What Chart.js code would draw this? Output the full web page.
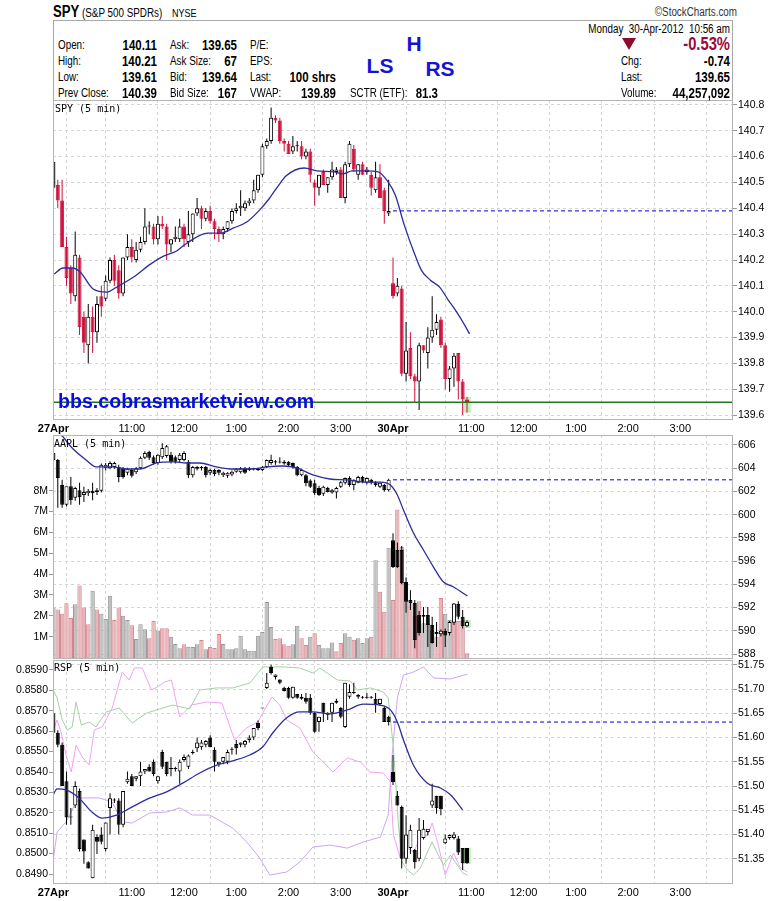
<!DOCTYPE html>
<html>
<head>
<meta charset="utf-8">
<title>SPY 5 min</title>
<script src="https://cdn.jsdelivr.net/npm/chart.js@4.4.1/dist/chart.umd.min.js"></script>
<style>
  html, body { margin: 0; padding: 0; background: #fff; }
  body { width: 780px; height: 901px; position: relative; overflow: hidden; }
  canvas { position: absolute; left: 0; }
  .t { position: absolute; white-space: pre; line-height: 1.15; z-index: 5; color: #000; }
  #box { position: absolute; left: 53px; top: 20px; width: 680px; height: 81px; box-sizing: border-box; border: 1px solid #a8a8a8; }
  #tri { position: absolute; left: 622px; top: 38px; width: 0; height: 0; border-left: 7px solid transparent; border-right: 7px solid transparent; border-top: 12px solid #8b0d2d; }
</style>
</head>
<body>
<div id="box"></div>
<div id="tri"></div>
<canvas id="spy" width="780" height="336" style="top:100px"></canvas>
<canvas id="aapl" width="780" height="224" style="top:435px"></canvas>
<canvas id="rsp" width="780" height="240" style="top:660px"></canvas>
<script>
// time axis: one slot per 5-minute bar, 27 Apr 9:30 = slot 0, 30 Apr 9:30 = slot 78
const tickSlots = [0, 6, 18, 30, 42, 54, 66, 78, 84, 96, 108, 120, 132, 144];
const tickLabels = {0: '27Apr', 18: '11:00', 30: '12:00', 42: '1:00', 54: '2:00', 66: '3:00',
  78: '30Apr', 96: '11:00', 108: '12:00', 120: '1:00', 132: '2:00', 144: '3:00'};

// SPY 5 min
const spyO = [140.58,140.49,140.43,140.25,140.17,140.06,140.21,139.98,139.87,139.98,139.92,140.06,
  140.05,140.12,140.20,140.16,140.07,140.21,140.25,140.20,140.24,140.27,140.33,140.33,140.28,140.34,140.33,140.26,140.28,140.28,140.33,140.27,140.30,140.38,140.40,140.36,140.39,140.35,140.32,140.30,140.32,140.35,140.39,140.40,140.40,140.42,140.43,140.47,140.53,140.64,140.66,140.75,140.74,140.66,140.65,140.62,140.64,140.64,140.60,140.62,140.50,140.48,140.54,140.49,140.52,140.54,140.55,140.44,140.57,140.63,140.53,140.57,140.54,140.53,140.47,140.52,140.47,140.38,
  140.11,140.07,140.09,139.76,139.86,139.75,139.73,139.87,139.84,139.90,139.93,139.97,139.87,139.74,139.78,139.84,139.73,139.66];
const spyH = [140.60,140.51,140.51,140.29,140.18,140.31,140.22,140.00,140.03,140.02,140.06,140.10,
  140.14,140.21,140.22,140.18,140.21,140.30,140.28,140.27,140.29,140.40,140.35,140.34,140.37,140.37,140.34,140.28,140.33,140.36,140.34,140.39,140.38,140.44,140.41,140.40,140.41,140.36,140.33,140.33,140.35,140.40,140.42,140.47,140.43,140.44,140.51,140.53,140.65,140.67,140.79,140.76,140.75,140.67,140.66,140.68,140.66,140.66,140.63,140.63,140.51,140.53,140.55,140.52,140.58,140.56,140.56,140.58,140.66,140.645,140.57,140.58,140.56,140.54,140.58,140.57,140.48,140.51,
  140.21,140.13,140.10,139.96,139.92,139.76,139.88,139.87,139.94,140.06,139.99,139.98,139.88,139.79,139.84,139.84,139.74,139.67];
const spyL = [140.48,140.40,140.25,140.10,140.03,140.04,139.91,139.84,139.80,139.84,139.88,139.98,
  140.04,140.11,140.10,140.05,140.06,140.20,140.19,140.19,140.23,140.26,140.30,140.26,140.26,140.32,140.20,140.23,140.27,140.27,140.25,140.25,140.27,140.37,140.32,140.35,140.34,140.28,140.27,140.28,140.31,140.34,140.38,140.37,140.39,140.41,140.42,140.46,140.52,140.63,140.65,140.73,140.65,140.62,140.61,140.61,140.62,140.59,140.59,140.50,140.41,140.45,140.49,140.46,140.51,140.53,140.44,140.42,140.56,140.54,140.51,140.53,140.53,140.45,140.46,140.44,140.34,140.37,
  140.05,140.06,139.75,139.73,139.74,139.65,139.62,139.84,139.78,139.88,139.91,139.86,139.70,139.69,139.71,139.66,139.60,139.61];
const spyC = [140.48,140.43,140.25,140.13,140.07,140.22,139.94,139.88,139.98,139.92,140.03,140.02,
  140.12,140.20,140.12,140.07,140.21,140.25,140.21,140.24,140.27,140.33,140.33,140.28,140.34,140.33,140.26,140.28,140.29,140.33,140.28,140.30,140.38,140.40,140.36,140.39,140.35,140.32,140.30,140.32,140.35,140.39,140.40,140.41,140.42,140.43,140.47,140.53,140.64,140.66,140.75,140.74,140.66,140.65,140.61,140.64,140.64,140.60,140.62,140.53,140.48,140.53,140.49,140.52,140.55,140.55,140.44,140.57,140.65,140.55,140.57,140.53,140.55,140.48,140.52,140.44,140.39,140.39,
  140.06,140.10,139.76,139.85,139.75,139.73,139.87,139.85,139.90,139.93,139.96,139.87,139.74,139.78,139.83,139.73,139.66,139.65];
const spyMaX = [0.2,2.2,4.3,6.2,9.1,12.4,14.2,18.4,22.3,25.3,28.3,30.4,35.4,38.4,41.4,44.4,47.4,49.5,51.6,53.4,57.6,60.5,64.5,66.5,68.6,71.6,74.6,76.7,78.5,80.6,82.7,84.5,86.6,88.7,90.7,92.6,94.7,95.6];
const spyMaY = [140.146,140.169,140.169,140.153,140.088,140.076,140.092,140.134,140.184,140.215,140.235,140.262,140.304,140.304,140.324,140.347,140.394,140.436,140.486,140.525,140.556,140.545,140.541,140.533,140.545,140.545,140.541,140.506,140.452,140.335,140.235,140.161,140.122,140.095,140.045,139.999,139.941,139.914];
const spyTicks = [139.6,139.7,139.8,139.9,140.0,140.1,140.2,140.3,140.4,140.5,140.6,140.7,140.8];

// AAPL 5 min + volume (millions)
const aaplO = [605.3,604.7,602.55,600.85,602.45,601.45,602.1,601.7,601.85,602.05,601.95,602.05,
  604.0,604.0,604.1,604.1,604.0,603.6,603.85,603.65,604.0,604.9,605.4,604.95,604.45,604.95,605.05,605.15,604.95,604.7,604.7,604.55,603.4,603.95,604.0,604.1,603.6,603.85,603.85,603.4,603.35,603.45,603.7,603.65,604.0,603.85,603.9,603.85,603.85,604.1,604.45,604.5,604.5,604.55,604.55,604.45,604.1,603.4,603.4,602.95,602.7,602.3,601.8,602.3,601.9,601.9,602.4,602.75,603.15,602.55,602.75,603.25,602.75,603.0,602.8,602.4,602.55,602.1,
  597.8,596.95,596.95,594.2,592.65,592.4,591.35,591.2,591.35,590.5,589.9,589.7,590.0,589.8,590.7,592.3,591.2,590.4];
const aaplH = [605.75,604.8,603.0,601.2,603.25,602.4,602.75,602.4,602.2,602.75,602.3,604.4,
  604.45,604.6,604.55,604.3,604.1,604.05,604.0,604.1,605.0,605.45,605.5,605.1,605.2,606.15,606.0,605.4,605.1,605.3,605.45,604.7,604.2,604.2,604.2,604.2,603.95,603.95,603.9,603.7,603.65,603.8,604.0,604.1,604.1,604.1,604.05,604.05,604.2,604.75,605.15,604.7,604.95,604.7,604.6,604.5,604.2,603.95,603.5,603.05,603.0,602.5,602.5,602.4,602.2,602.4,602.9,603.2,603.3,603.05,603.35,603.35,603.2,603.1,602.9,602.8,602.65,603.1,
  598.4,597.6,597.3,594.6,593.5,592.65,591.7,592.05,592.05,591.2,590.75,590.1,590.2,590.85,592.4,592.55,591.8,590.9];
const aaplL = [603.85,600.6,600.6,600.7,600.85,601.2,600.85,601.1,601.6,601.25,601.7,601.9,
  603.8,603.9,603.95,602.8,603.1,603.4,603.2,603.5,603.9,604.8,604.7,604.3,604.3,604.8,604.9,604.4,604.4,604.5,604.6,603.15,603.2,603.8,603.8,603.2,603.4,603.3,603.4,603.25,603.15,603.3,603.6,603.55,603.5,603.75,603.8,603.75,603.75,604.0,604.3,604.3,604.4,604.3,604.1,603.95,603.3,603.3,602.45,602.3,601.7,601.6,601.6,601.9,601.8,601.4,602.3,602.6,602.4,602.1,602.7,602.7,602.6,602.6,602.4,602.3,602.0,602.0,
  595.4,595.4,594.0,591.55,591.8,588.5,589.6,589.8,588.6,588.9,588.6,589.5,588.6,589.6,590.5,591.0,590.2,590.3];
const aaplC = [604.7,603.15,600.85,602.45,601.25,602.3,601.5,601.95,602.05,601.85,602.1,604.3,
  604.3,604.45,604.45,603.25,603.25,603.95,603.35,604.0,604.9,605.3,604.9,604.45,605.15,605.75,605.9,604.55,604.55,605.15,605.3,603.4,604.1,604.1,604.1,603.4,603.85,603.5,603.6,603.6,603.6,603.7,603.95,604.0,603.6,604.0,604.0,603.95,604.1,604.7,604.7,604.6,604.55,604.4,604.25,604.1,603.4,603.85,602.7,602.4,601.85,601.7,602.4,601.95,602.1,602.3,602.8,603.15,602.55,603.0,603.25,602.8,603.15,602.75,602.55,602.75,602.1,603.0,
  595.5,595.5,594.1,592.5,592.4,589.2,589.8,591.35,590.5,588.95,589.7,590.0,589.6,590.75,592.35,591.2,590.4,590.75];
const aaplVol = [2.4,2.3,2.1,2.6,1.9,2.55,3.45,2.4,1.6,3.2,2.3,2.1,1.85,2.96,1.8,2.4,2.0,1.8,1.55,0.89,1.6,1.36,0.93,1.75,1.3,1.4,1.4,1.0,0.65,0.45,0.64,0.52,0.5,0.64,0.84,0.4,0.5,0.46,1.13,0.65,0.4,0.4,0.45,1.04,0.4,0.32,0.32,1.04,1.22,2.66,1.46,0.89,0.93,0.64,0.57,0.64,1.52,
  0.93,0.6,1.0,1.17,0.6,0.45,0.45,0.72,0.3,0.7,1.17,1.0,0.85,0.93,0.7,0.93,1.0,4.67,3.15,2.2,5.26,
  2.76,7.1,5.3,3.6,2.6,2.0,2.7,1.65,1.65,1.3,1.0,2.85,2.1,1.8,1.75,1.75,1.75,0.2];
const aaplVolDown = [0,1,1,1,1,0,1,1,1,0,1,0,0,0,1,1,0,0,1,0,0,0,1,1,0,1,1,0,0,0,1,0,0,0,1,0,1,1,1,0,0,0,0,0,0,0,0,0,0,0,0,1,1,1,1,0,0,
  1,1,0,1,0,0,0,0,1,1,0,0,1,0,0,0,1,0,1,1,0,
  1,1,1,0,1,1,1,0,0,0,1,1,0,0,1,1,1,1];
const aaplMaX = [-0.3,1.8,4.3,7.5,9.8,13.5,16.8,19.8,23.7,27.4,30.6,33.6,37.5,41.2,45.8,49.0,52.7,55.9,59.6,63.5,67.5,71.2,75.1,77.4,79.0,80.4,82.7,85.0,87.3,89.6,91.9,95.1];
const aaplMaY = [607.46,606.86,605.74,604.71,604.11,604.11,603.93,603.93,604.45,604.54,604.45,604.45,604.11,603.93,603.93,604.11,604.19,604.02,603.42,603.07,602.99,602.81,602.81,602.55,601.69,600.40,598.42,596.96,595.49,594.20,593.77,592.99];
const aaplTicks = [588,590,592,594,596,598,600,602,604,606];
const volTicks = [1,2,3,4,5,6,7,8];

// RSP 5 min + overlays on the left scale
const rspO = [51.65,51.61,51.585,51.51,51.435,51.46,51.49,51.39,51.343,51.31,51.395,51.40,51.37,51.455,51.47,51.47,51.42,51.508,51.52,51.515,51.52,51.53,51.54,51.55,51.51,51.57,51.55,51.535,51.535,51.53,51.554,51.54,51.568,51.578,51.58,51.585,51.60,51.575,51.545,51.55,51.55,51.575,51.587,51.585,51.585,51.595,51.60,51.63,51.66,51.702,51.746,51.725,51.72,51.703,51.702,51.682,51.69,51.684,51.682,51.682,51.651,51.632,51.672,51.647,51.651,51.672,51.661,51.622,51.684,51.692,51.684,51.684,51.682,51.682,51.68,51.669,51.661,51.643,
  51.529,51.48,51.457,51.35,51.372,51.368,51.35,51.393,51.405,51.46,51.48,51.48,51.382,51.393,51.393,51.392,51.372,51.372];
const rspH = [51.655,51.615,51.59,51.53,51.455,51.51,51.495,51.39,51.345,51.42,51.40,51.415,51.425,51.485,51.475,51.475,51.49,51.53,51.525,51.52,51.55,51.535,51.545,51.555,51.52,51.575,51.55,51.56,51.54,51.555,51.565,51.565,51.575,51.60,51.595,51.595,51.605,51.58,51.55,51.56,51.575,51.58,51.595,51.59,51.595,51.605,51.62,51.635,51.66,51.733,51.75,51.73,51.72,51.705,51.705,51.705,51.69,51.69,51.692,51.69,51.653,51.643,51.672,51.652,51.672,51.68,51.663,51.713,51.71,51.713,51.69,51.686,51.692,51.686,51.692,51.68,51.663,51.645,
  51.564,51.49,51.46,51.44,51.42,51.37,51.434,51.43,51.41,51.505,51.48,51.48,51.40,51.40,51.405,51.397,51.372,51.372];
const rspL = [51.58,51.58,51.50,51.42,51.42,51.455,51.365,51.34,51.33,51.31,51.36,51.38,51.365,51.40,51.465,51.40,51.415,51.505,51.50,51.51,51.50,51.525,51.53,51.52,51.505,51.535,51.52,51.52,51.53,51.505,51.55,51.535,51.565,51.57,51.575,51.58,51.58,51.53,51.54,51.545,51.545,51.565,51.565,51.58,51.58,51.59,51.595,51.615,51.66,51.70,51.73,51.72,51.71,51.695,51.68,51.68,51.68,51.678,51.67,51.647,51.61,51.612,51.632,51.636,51.632,51.67,51.64,51.62,51.68,51.69,51.68,51.68,51.68,51.68,51.651,51.665,51.632,51.625,
  51.502,51.46,51.33,51.34,51.36,51.33,51.345,51.39,51.398,51.455,51.443,51.44,51.38,51.39,51.39,51.358,51.327,51.34];
const rspC = [51.61,51.585,51.50,51.435,51.435,51.50,51.37,51.365,51.33,51.41,51.385,51.385,51.425,51.475,51.47,51.42,51.49,51.515,51.50,51.52,51.53,51.535,51.53,51.525,51.52,51.54,51.525,51.537,51.537,51.55,51.56,51.563,51.57,51.59,51.59,51.593,51.58,51.55,51.55,51.56,51.57,51.575,51.578,51.59,51.593,51.60,51.62,51.62,51.661,51.713,51.733,51.73,51.713,51.696,51.682,51.705,51.682,51.68,51.674,51.651,51.612,51.643,51.651,51.651,51.672,51.676,51.643,51.713,51.694,51.694,51.688,51.682,51.684,51.684,51.667,51.68,51.632,51.632,
  51.508,51.46,51.35,51.40,51.41,51.343,51.41,51.412,51.412,51.47,51.454,51.452,51.392,51.399,51.40,51.363,51.341,51.341];
const rspMaX = [-0.3,0.85,2.9,5.9,8.9,11.2,14.5,18.1,22.1,26.0,29.7,33.6,37.5,41.2,45.1,48.1,50.4,53.6,56.6,59.6,63.5,67.5,71.2,75.1,77.4,79.0,80.4,82.7,85.9,88.9,91.2,94.0];
const rspMaY = [51.477,51.494,51.492,51.475,51.446,51.434,51.440,51.457,51.475,51.488,51.506,51.527,51.543,51.552,51.564,51.581,51.610,51.641,51.653,51.653,51.649,51.657,51.669,51.667,51.657,51.632,51.595,51.543,51.506,51.496,51.482,51.451];
const greenX = [-0.3,0.85,2.0,3.2,4.3,5.2,6.4,8.2,9.8,12.1,15.1,18.1,21.4,24.4,27.4,31.3,33.6,37.5,41.2,45.1,48.1,52.7,56.6,59.6,61.2,65.2,68.2,69.8,72.8,75.8,76.9,78.1,79.2,80.1,81.3,82.7,84.3,85.9,87.0,88.4,89.6,91.2,92.3,94.0,95.1];
const greenY = [0.85812,0.85763,0.85655,0.85606,0.85621,0.85743,0.85630,0.85645,0.85621,0.85694,0.85714,0.85640,0.85689,0.85709,0.85728,0.85709,0.85802,0.85812,0.85812,0.85836,0.85915,0.85915,0.85910,0.85885,0.85910,0.85851,0.85846,0.85802,0.85812,0.85792,0.85763,0.85518,0.85155,0.84959,0.84920,0.84895,0.84929,0.85008,0.85057,0.84993,0.84944,0.84993,0.84959,0.84905,0.84895];
const pinkX = [-0.3,0.85,1.8,2.9,4.1,5.2,6.6,8.2,9.4,11.2,13.5,15.8,17.4,18.6,20.4,22.5,23.9,25.5,27.1,29.0,31.7,35.2,38.7,41.6,44.4,46.9,50.2,52.0,53.6,56.6,59.6,62.0,64.2,67.5,70.5,72.8,75.8,77.4,78.1,79.7,81.3,82.7,84.3,85.9,87.0,88.4,90.0,91.9,93.5,95.1];
const pinkY = [0.85596,0.85655,0.85591,0.85483,0.85400,0.85532,0.85474,0.85434,0.85606,0.85621,0.85714,0.85890,0.85851,0.85910,0.85910,0.85802,0.85817,0.85841,0.85851,0.85670,0.85728,0.85743,0.85738,0.85557,0.85616,0.85645,0.85768,0.85728,0.85655,0.85616,0.85498,0.85449,0.85400,0.85469,0.85449,0.85400,0.85395,0.85351,0.85091,0.84978,0.85027,0.85008,0.85076,0.85091,0.85150,0.85042,0.84895,0.85003,0.84929,0.84910];
const violetX = [-0.3,0.85,2.9,5.2,6.6,10.5,13.5,15.8,18.1,22.1,26.0,29.0,32.0,35.9,41.2,44.4,47.4,49.7,53.6,56.6,59.6,63.5,67.5,71.2,75.1,76.9,77.8,79.0,80.4,82.7,85.0,87.3,91.2,95.1];
const violetY = [0.84929,0.85106,0.85155,0.85253,0.85273,0.85273,0.85253,0.85155,0.85150,0.85199,0.85204,0.85224,0.85189,0.85189,0.85125,0.85057,0.84978,0.84895,0.84910,0.84959,0.85032,0.85042,0.85027,0.85057,0.85081,0.85189,0.85483,0.85763,0.85875,0.85890,0.85915,0.85861,0.85856,0.85880];
const rspTicks = [51.35,51.40,51.45,51.50,51.55,51.60,51.65,51.70,51.75];
const ratioTicks = [0.849,0.850,0.851,0.852,0.853,0.854,0.855,0.856,0.857,0.858,0.859];

// ---------- header / labels as plain text ----------
const FAM = '"Liberation Sans", Arial, sans-serif';
// narrow: the header face is a condensed sans, so squeeze Liberation Sans horizontally
function txt(s, x, y, font, align, color, narrow) {
  const d = document.createElement('div');
  d.className = 't';
  d.textContent = s;
  d.style.left = x + 'px';
  d.style.top = y + 'px';
  d.style.font = font;
  if (color) d.style.color = color;
  const tx = align === 'right' ? '-100%' : align === 'center' ? '-50%' : '0';
  d.style.transformOrigin = (align === 'right' ? '100%' : align === 'center' ? '50%' : '0') + ' 50%';
  d.style.transform = 'translate(' + tx + ', -50%)' + (narrow ? ' scaleX(0.82)' : '');
  document.body.appendChild(d);
}
const N = (s, x, y, font, align, color) => txt(s, x, y, font + ' ' + FAM, align, color, true);
const lab = '12px', val = 'bold 14px';
N('SPY', 53, 12, 'bold 16px');
N('(S&P 500 SPDRs)', 82, 13, '12px');
N('NYSE', 172, 13, '11px');
N('\u00a9StockCharts.com', 737, 12, '12px', 'right', '#333');
N('Monday  30-Apr-2012  10:56 am', 730, 29, lab, 'right');
[['Open:', '140.11', 'Ask:', '139.65', 'P/E:', ''],
 ['High:', '140.21', 'Ask Size:', '67', 'EPS:', ''],
 ['Low:', '139.61', 'Bid:', '139.64', 'Last:', '100 shrs'],
 ['Prev Close:', '140.39', 'Bid Size:', '167', 'VWAP:', '139.89']].forEach((r, i) => {
  const y = 44.5 + i * 16;
  N(r[0], 58, y, lab); N(r[1], 157, y, val, 'right');
  N(r[2], 170, y, lab); N(r[3], 237, y, val, 'right');
  N(r[4], 250, y, lab); if (r[5]) N(r[5], 336, y, val, 'right');
});
N('SCTR (ETF):', 350, 92.5, lab); N('81.3', 438, 92.5, val, 'right');
N('-0.53%', 730, 43.5, 'bold 18px', 'right', '#990a35');
[['Chg:', '-0.74'], ['Last:', '139.65'], ['Volume:', '44,257,092']].forEach((r, i) => {
  const y = 60.5 + i * 16;
  N(r[0], 621, y, lab); N(r[1], 730, y, val, 'right');
});
txt('H', 414, 44, 'bold 21px ' + FAM, 'center', '#1414d2');
txt('LS', 380, 66, 'bold 21px ' + FAM, 'center', '#1414d2');
txt('RS', 440, 68.5, 'bold 21px ' + FAM, 'center', '#1414d2');
txt('SPY (5 min)', 55, 108, '10px "DejaVu Sans Mono", monospace');
txt('AAPL (5 min)', 54, 443, '10px "DejaVu Sans Mono", monospace');
txt('RSP (5 min)', 54, 667, '10px "DejaVu Sans Mono", monospace');
txt('bbs.cobrasmarketview.com', 58, 401, 'bold 19.6px ' + FAM, 'left', '#0a0ae8');

// ---------- chart helpers ----------
const axisFont = { family: FAM, size: 10.5 };
const GRID = '#d6d6d6';

function xAxis(labels) {
  return {
    type: 'linear', min: -0.1, max: 156.1, bounds: 'data', offset: false,
    afterBuildTicks: s => { s.ticks = tickSlots.map(v => ({ value: v })); },
    afterFit: s => { s.height = labels ? 16 : 0; s.paddingLeft = 0; s.paddingRight = 0; },
    ticks: {
      display: labels, autoSkip: false, maxRotation: 0, padding: 2, color: '#000',
      callback: v => tickLabels[v] || '',
      font: c => ({ family: FAM, size: 11,
        weight: (c.tick && (c.tick.value === 0 || c.tick.value === 78)) ? 'bold' : 'normal' })
    },
    grid: { color: GRID, drawTicks: false },
    border: { display: false, dash: [3, 3] }
  };
}

function yAxis(pos, min, max, ticks, fmt, grid) {
  return {
    type: 'linear', position: pos, min: min, max: max, bounds: 'data',
    afterBuildTicks: s => { s.ticks = ticks.map(v => ({ value: v })); },
    afterFit: s => { s.width = pos === 'right' ? 47 : 53; s.paddingTop = 0; s.paddingBottom = 0; },
    ticks: { callback: fmt, font: axisFont, color: '#000', padding: 1, autoSkip: false },
    grid: { drawOnChartArea: grid, color: GRID, tickLength: 4, tickColor: '#999', tickBorderDash: [] },
    border: { display: false, dash: [3, 3] }
  };
}

function candles(o, h, l, c, axis, colorOf) {
  const cols = c.map((v, i) => colorOf(i));
  return [
    { type: 'bar', yAxisID: axis, order: 6, grouped: false, barThickness: 4, minBarLength: 1,
      borderWidth: 1, borderSkipped: false, inflateAmount: 0,
      data: o.map((v, i) => ({ x: i, y: [Math.min(v, c[i]), Math.max(v, c[i])] })),
      backgroundColor: c.map((v, i) => v < o[i] ? cols[i] : '#ffffff'),
      borderColor: cols },
    { type: 'bar', yAxisID: axis, order: 7, grouped: false, barThickness: 1, borderWidth: 0, inflateAmount: 0,
      data: l.map((v, i) => ({ x: i, y: [v, h[i]] })),
      backgroundColor: cols }
  ];
}

function line(xs, ys, axis, color, width, order, smooth) {
  return { type: 'line', yAxisID: axis, order: order, borderColor: color, borderWidth: width,
    pointRadius: 0, tension: smooth ? 0.4 : 0, cubicInterpolationMode: smooth ? 'monotone' : 'default',
    data: xs.map((x, i) => ({ x: x, y: ys[i] })) };
}

function prevClose(v, axis) {
  return { type: 'line', yAxisID: axis, order: 4, borderColor: '#0000d8', borderWidth: 1, borderDash: [4, 3],
    pointRadius: 0, data: [{ x: 78, y: v }, { x: 156.1, y: v }] };
}

function lastBox(l, h, axis) {
  const i = l.length - 1;
  return { type: 'bar', yAxisID: axis, order: 9, grouped: false, barThickness: 7, borderWidth: 0,
    backgroundColor: '#c6efbd', data: [{ x: i, y: [l[i], h[i]] }] };
}

const frame = {
  id: 'frame',
  afterDraw(chart) {
    const a = chart.chartArea, ctx = chart.ctx;
    ctx.save();
    ctx.strokeStyle = '#b4b4b4';
    ctx.lineWidth = 1;
    ctx.strokeRect(Math.round(a.left) + 0.5, Math.round(a.top) + 0.5,
      Math.round(a.right - a.left) - 1, Math.round(a.bottom - a.top) - 1);
    ctx.restore();
  }
};

function make(id, datasets, scales, padLeft) {
  return new Chart(document.getElementById(id), {
    type: 'bar',
    data: { datasets: datasets },
    options: {
      responsive: false, animation: false, events: [], devicePixelRatio: 1,
      layout: { padding: { left: padLeft, right: 0, top: 0, bottom: 0 }, autoPadding: false },
      plugins: { legend: { display: false }, tooltip: { enabled: false } },
      scales: scales
    },
    plugins: [frame]
  });
}

// ---------- SPY ----------
const red = '#d0103c';
make('spy', [
  ...candles(spyO, spyH, spyL, spyC, 'y', i => (i > 0 && spyC[i] < spyC[i - 1]) ? red : '#000000'),
  lastBox(spyL, spyH, 'y'),
  line(spyMaX, spyMaY, 'y', '#2d2d9c', 1.3, 5, true),
  prevClose(spyC[77], 'y'),
  { type: 'line', yAxisID: 'y', order: 3, borderColor: '#1f7a1f', borderWidth: 1.5, pointRadius: 0,
    data: [{ x: -0.1, y: spyC[95] }, { x: 156.1, y: spyC[95] }] }
], {
  x: xAxis(true),
  y: yAxis('right', 139.581, 140.819, spyTicks, v => v.toFixed(1), true)
}, 53);

// ---------- AAPL ----------
make('aapl', [
  { type: 'bar', yAxisID: 'yv', order: 10, grouped: false, barThickness: 4.35, borderWidth: 1,
    borderSkipped: false, inflateAmount: 0, base: -0.07,
    data: aaplVol.map((v, i) => ({ x: i, y: v })),
    backgroundColor: aaplVolDown.map(d => d ? '#e9b3b9' : '#c0c0c0'),
    borderColor: aaplVolDown.map(d => d ? '#d4868f' : '#979797') },
  ...candles(aaplO, aaplH, aaplL, aaplC, 'y', () => '#000000'),
  lastBox(aaplL, aaplH, 'y'),
  line(aaplMaX, aaplMaY, 'y', '#2d2d9c', 1.3, 5, true),
  prevClose(aaplC[77], 'y')
], {
  x: xAxis(false),
  yv: yAxis('left', -0.07, 10.67, volTicks, v => v + 'M', false),
  y: yAxis('right', 587.57, 606.86, aaplTicks, v => String(v), true)
}, 0);

// ---------- RSP ----------
make('rsp', [
  line(greenX, greenY, 'yr', '#a6cfa6', 1, 8, false),
  line(pinkX, pinkY, 'yr', '#f3a2ef', 1, 8, false),
  line(violetX, violetY, 'yr', '#c9a8ee', 1, 8, false),
  ...candles(rspO, rspH, rspL, rspC, 'y', () => '#000000'),
  lastBox(rspL, rspH, 'y'),
  line(rspMaX, rspMaY, 'y', '#2d2d9c', 1.3, 5, true),
  prevClose(rspC[77], 'y')
], {
  x: xAxis(true),
  yr: yAxis('left', 0.84851, 0.85949, ratioTicks, v => v.toFixed(4), false),
  y: yAxis('right', 51.298, 51.760, rspTicks, v => v.toFixed(2), true)
}, 0);
</script>
</body>
</html>
